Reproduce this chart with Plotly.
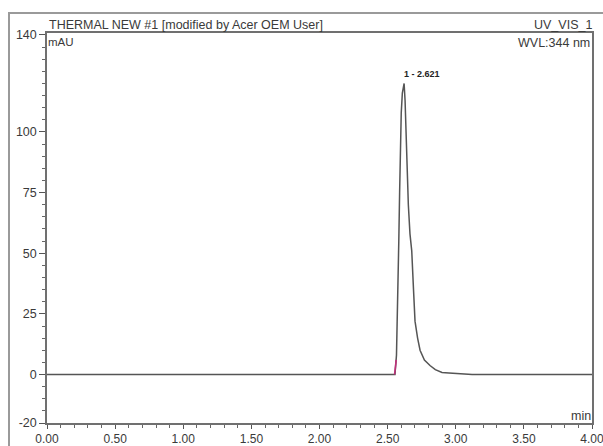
import plotly.graph_objects as go

# ---- data ----
time_min = [0.00, 2.50, 2.554, 2.565, 2.575, 2.582, 2.588, 2.594, 2.600, 2.608, 2.621,
            2.628, 2.640, 2.652, 2.664, 2.677, 2.690, 2.701, 2.720, 2.738, 2.770,
            2.811, 2.850, 2.899, 2.950, 3.000, 3.050, 3.100, 3.120, 4.00]
signal_mau = [0.0, 0.0, 0.0, 8.0, 30.0, 55.0, 75.0, 95.0, 108.0, 116.0, 120.0,
              113.0, 88.0, 70.0, 58.0, 51.0, 35.0, 22.0, 15.0, 10.0, 6.0,
              3.7, 2.0, 0.8, 0.6, 0.5, 0.4, 0.3, 0.0, 0.0]

peak_start_t = [2.551, 2.563]
peak_start_v = [0.0, 6.0]

peak_time = 2.621
peak_height = 120.0
peak_label = "1 - 2.621"

x_tick_vals = [0.0, 0.5, 1.0, 1.5, 2.0, 2.5, 3.0, 3.5, 4.0]
x_tick_text = ["0.00", "0.50", "1.00", "1.50", "2.00", "2.50", "3.00", "3.50", "4.00"]
y_tick_vals = [-20, 0, 25, 50, 75, 100, 140]
y_tick_text = ["-20", "0", "25", "50", "75", "100", "140"]
y_minor_vals = [v for v in range(-20, 141, 5) if v not in y_tick_vals]

title_text = "THERMAL NEW #1 [modified by Acer OEM User]"
channel_text = "UV_VIS_1"
wvl_text = "WVL:344 nm"
y_unit = "mAU"
x_unit = "min"

FONT = "Liberation Sans, Arial, sans-serif"
TXT = "#3a3a3a"

fig = go.Figure()
fig.add_trace(go.Scatter(x=time_min, y=signal_mau, mode="lines",
                         line=dict(color="#555555", width=1.5),
                         hoverinfo="skip", showlegend=False))
fig.add_trace(go.Scatter(x=peak_start_t, y=peak_start_v, mode="lines",
                         line=dict(color="#c0307a", width=1.6),
                         hoverinfo="skip", showlegend=False))

W, H = 603, 446
L, R, T, B = 47, 11, 33, 23
pw, ph = W - L - R, H - T - B

def px(xp):
    return (xp - L) / pw

def py(yp):
    return (H - B - yp) / ph

annos = [
    dict(text=title_text, x=px(48), y=py(33), xanchor="left", yanchor="bottom", font=dict(size=12.5)),
    dict(text=channel_text, x=px(593), y=py(33), xanchor="right", yanchor="bottom", font=dict(size=12.5)),
    dict(text=wvl_text, x=px(591), y=py(43), xanchor="right", yanchor="middle", font=dict(size=12.5)),
    dict(text=y_unit, x=px(47), y=py(41.5), xanchor="left", yanchor="middle", font=dict(size=11.5)),
    dict(text=x_unit, x=px(592), y=py(416), xanchor="right", yanchor="middle", font=dict(size=12.5)),
]
for a in annos:
    a.update(xref="paper", yref="paper", showarrow=False, borderpad=0)
    a["font"].update(family=FONT, color=TXT)
    fig.add_annotation(**a)

fig.add_annotation(x=peak_time, y=peak_height, xref="x", yref="y", text="<b>" + peak_label + "</b>",
                   showarrow=False, xanchor="left", yanchor="bottom", xshift=-2, yshift=2,
                   font=dict(family=FONT, size=9, color="#222222"))

# outer frame (cropped at right/bottom in the reference)
fig.add_shape(type="rect", xref="paper", yref="paper",
              x0=px(9), x1=px(700), y0=py(600), y1=py(13),
              line=dict(color="#9a9a9a", width=2), fillcolor="rgba(0,0,0,0)", layer="below")

fig.update_layout(
    width=W, height=H,
    margin=dict(l=L, r=R, t=T, b=B, pad=0, autoexpand=False),
    paper_bgcolor="white", plot_bgcolor="white",
    font=dict(family=FONT, size=12.5, color=TXT),
    showlegend=False,
)
fig.update_xaxes(range=[0, 4], tickmode="array", tickvals=x_tick_vals, ticktext=x_tick_text,
                 ticks="outside", ticklen=4, tickwidth=1.2, tickcolor="#555555",
                 minor=dict(dtick=0.1, tick0=0, ticks="outside", ticklen=3, tickwidth=1, tickcolor="#666666"),
                 showline=True, mirror=True, linecolor="#707070", linewidth=1.5, automargin=False,
                 ticklabeloverflow="allow",
                 showgrid=False, zeroline=False, tickfont=dict(size=12, color=TXT))
fig.update_yaxes(range=[-20, 140.82], tickmode="array", tickvals=y_tick_vals, ticktext=y_tick_text,
                 ticks="outside", ticklen=6, tickwidth=1.2, tickcolor="#555555",
                 minor=dict(tickmode="array", tickvals=y_minor_vals, ticks="outside", ticklen=3,
                            tickwidth=1, tickcolor="#666666"),
                 showline=True, mirror=True, linecolor="#707070", linewidth=1.5, automargin=False,
                 ticklabeloverflow="allow",
                 showgrid=False, zeroline=False, tickfont=dict(size=12.5, color=TXT))

fig.write_html("out.html")
